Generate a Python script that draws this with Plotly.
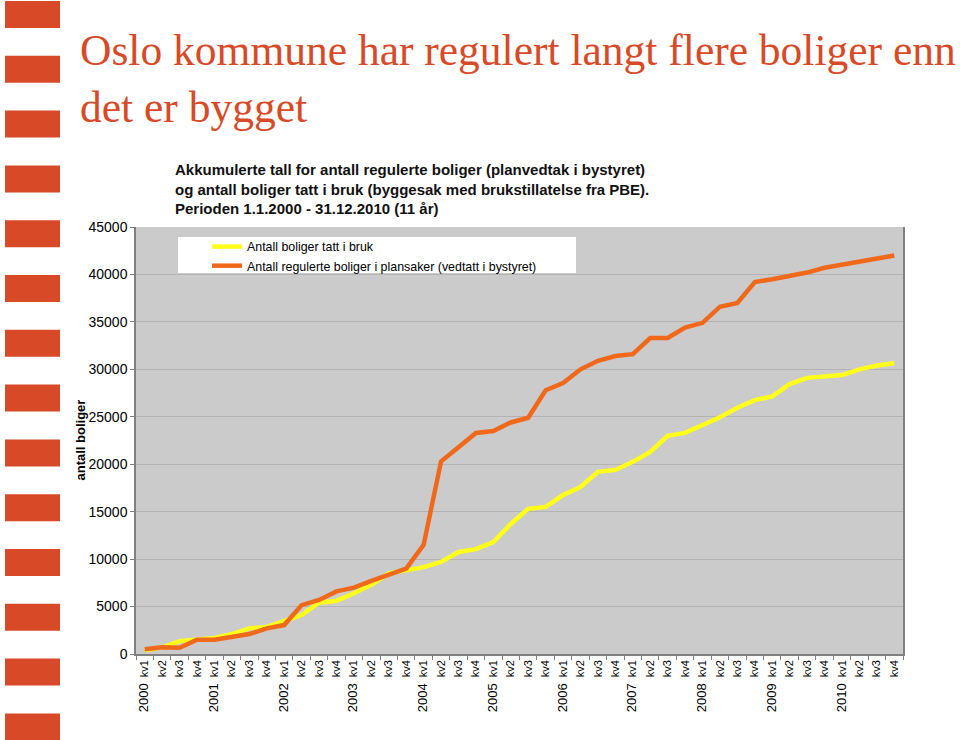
import plotly.graph_objects as go

years = ["2000", "2001", "2002", "2003", "2004", "2005", "2006", "2007", "2008", "2009", "2010"]
quarters = ["kv1", "kv2", "kv3", "kv4"]

tatt_i_bruk = [400, 700, 1350, 1550, 1700, 2100, 2700, 2850, 3500, 4100, 5400,
               5600, 6400, 7300, 8500, 8850, 9150, 9700, 10750, 11050, 11800, 13700,
               15300, 15500, 16750, 17600, 19200, 19400, 20250, 21300, 23000, 23300,
               24100, 24950, 25950, 26750, 27150, 28450, 29100, 29200, 29400, 30000,
               30400, 30650]
regulerte = [500, 700, 650, 1500, 1500, 1850, 2100, 2700, 3050, 5150, 5700,
             6600, 7000, 7700, 8300, 9000, 11500, 20300, 21800, 23300, 23500, 24400,
             24900, 27800, 28550, 30000, 30900, 31400, 31600, 33300, 33300, 34400,
             34900, 36600, 37000, 39200, 39500, 39800, 40200, 40700, 41000, 41300,
             41600, 42000]

cats = [f"{y} {q}" for y in years for q in quarters]
ticktext = []
for y in years:
    for q in quarters:
        if q == "kv1":
            ticktext.append(f"<span style='font-size:13px'>{y}</span>  {q}")
        else:
            ticktext.append(q)

W_FIG, H_FIG = 960, 740
L, R, T, B = 136, 903, 227, 654
PW, PH = R - L, B - T

def px(x):
    return (x - L) / PW

def py(y):
    return (B - y) / PH

RED = "#d84a27"
ORANGE = "#f0691a"
YELLOW = "#ffff1a"

fig = go.Figure()
fig.add_trace(go.Scatter(x=cats, y=tatt_i_bruk, mode="lines", name="Antall boliger tatt i bruk",
                         line=dict(color=YELLOW, width=4.5)))
fig.add_trace(go.Scatter(x=cats, y=regulerte, mode="lines",
                         name="Antall regulerte boliger i plansaker (vedtatt i bystyret)",
                         line=dict(color=ORANGE, width=4.5)))

shapes = []
for i in range(14):
    top = 1 + i * 54.8
    shapes.append(dict(type="rect", xref="paper", yref="paper", layer="above",
                       x0=px(5), x1=px(60), y0=py(top + 27), y1=py(top),
                       fillcolor=RED, line=dict(width=0)))
shapes.append(dict(type="rect", xref="paper", yref="paper", layer="below",
                   x0=px(178), x1=px(576), y0=py(273), y1=py(237),
                   fillcolor="white", line=dict(width=0)))

annotations = [
    dict(text="Oslo kommune har regulert langt flere boliger enn<br>det er bygget",
         xref="paper", yref="paper", x=px(78), y=py(24), xanchor="left", yanchor="top",
         align="left", showarrow=False,
         font=dict(family="Liberation Serif, Times New Roman, serif", size=43.5, color=RED)),
    dict(text="<b>Akkumulerte tall for antall regulerte boliger (planvedtak i bystyret)<br>"
              "og antall boliger tatt i bruk (byggesak med brukstillatelse fra PBE).<br>"
              "Perioden 1.1.2000 - 31.12.2010 (11 år)</b>",
         xref="paper", yref="paper", x=px(173), y=py(159), xanchor="left", yanchor="top",
         align="left", showarrow=False,
         font=dict(family="Liberation Sans, Arial, sans-serif", size=15, color="#111111")),
    dict(text="<b>antall boliger</b>", textangle=-90,
         xref="paper", yref="paper", x=px(80), y=0.5, xanchor="center", yanchor="middle",
         showarrow=False,
         font=dict(family="Liberation Sans, Arial, sans-serif", size=13, color="black")),
]

fig.update_layout(
    width=W_FIG, height=H_FIG,
    margin=dict(l=L, r=W_FIG - R, t=T, b=H_FIG - B, autoexpand=False),
    paper_bgcolor="white", plot_bgcolor="#cbcbcb",
    font=dict(family="Liberation Sans, Arial, sans-serif", size=12, color="black"),
    shapes=shapes, annotations=annotations,
    legend=dict(x=px(207), y=py(232), xanchor="left", yanchor="top",
                bgcolor="rgba(0,0,0,0)", borderwidth=0,
                font=dict(size=12.4, color="black"), tracegroupgap=0,
                itemwidth=30),
    showlegend=True,
)
fig.update_xaxes(type="category", categoryorder="array", categoryarray=cats,
                 tickmode="array", tickvals=cats, ticktext=ticktext, tickangle=-90,
                 tickfont=dict(size=11, color="black"),
                 range=[-0.5, len(cats) - 0.5], showgrid=False,
                 showline=True, linecolor="#808080", linewidth=1.5,
                 ticks="outside", tickson="boundaries", ticklen=4, tickcolor="#808080")
fig.update_yaxes(range=[0, 45000], tickvals=list(range(0, 45001, 5000)), tickformat="d",
                 tickfont=dict(size=14, color="black"),
                 showgrid=True, gridcolor="#b3b3b3", gridwidth=1, zeroline=False,
                 showline=True, linecolor="#808080", linewidth=1.5, mirror=True,
                 ticks="outside", ticklen=4, tickcolor="#808080")

fig.write_html("out.html", config={"displayModeBar": False},
               post_script="document.body.style.margin='0';")
